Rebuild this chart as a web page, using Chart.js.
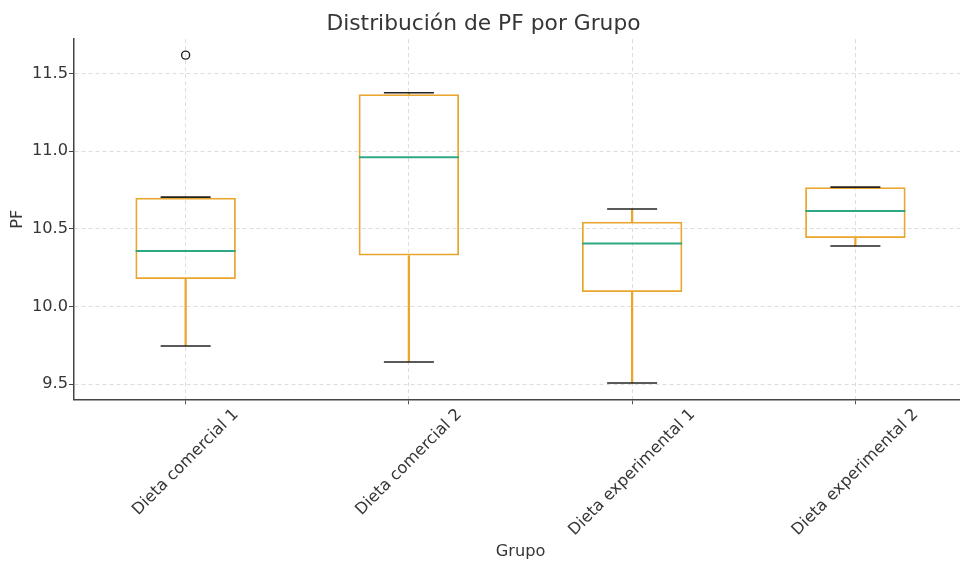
<!DOCTYPE html>
<html lang="es">
<head>
<meta charset="utf-8">
<title>Distribución de PF por Grupo</title>
<script src="https://cdn.jsdelivr.net/npm/chart.js@4/dist/chart.umd.min.js"></script>
<style>
    html, body { margin: 0; padding: 0; background: #fff; overflow: hidden; }
    #wrap { width: 960px; height: 565px; overflow: hidden; }
    canvas { display: block; }
</style>
</head>
<body>
<div id="wrap"><canvas id="chart" width="967" height="565"></canvas></div>
<script>
// datos (PF por grupo)
const groups = ["Dieta comercial 1", "Dieta comercial 2", "Dieta experimental 1", "Dieta experimental 2"];
const whiskerLow = [9.745, 9.642, 9.507, 10.389];
const q1 = [10.176, 10.328, 10.093, 10.440];
const medians = [10.357, 10.961, 10.405, 10.614];
const q3 = [10.700, 11.367, 10.546, 10.768];
const whiskerHigh = [10.704, 11.376, 10.627, 10.768];
const outliers = [11.618, null, null, null];
const yTicks = [9.5, 10.0, 10.5, 11.0, 11.5];

(function () {
    "use strict";

    const FONT = "'DejaVu Sans', 'Liberation Sans', sans-serif";
    const TEXT = "#363636";
    const ORANGE = "#E9A52D";
    const GREEN = "#2FA783";
    const CAP = "#222222";
    const LABEL_SIZE = 16.2;

    // etiquetas del eje x giradas 45°, centradas bajo cada marca (estilo matplotlib)
    const xLabelsPlugin = {
        id: "xLabels",
        afterDraw(chart) {
            const { ctx, chartArea, scales: { x } } = chart;
            const h = LABEL_SIZE * 1.16;
            ctx.save();
            ctx.font = `${LABEL_SIZE}px ${FONT}`;
            ctx.fillStyle = TEXT;
            ctx.textAlign = "center";
            ctx.textBaseline = "middle";
            groups.forEach((label, i) => {
                const w = ctx.measureText(label).width;
                const boxH = (w + h) * Math.SQRT1_2;
                const cx = x.getPixelForValue(i);
                const cy = chartArea.bottom + 6 + boxH / 2;
                ctx.save();
                ctx.translate(cx, cy);
                ctx.rotate(-Math.PI / 4);
                ctx.fillText(label, 0, 0);
                ctx.restore();
            });
            ctx.restore();
        },
    };

    const ctx = document.getElementById("chart").getContext("2d");
    new Chart(ctx, {
        type: "bar",
        data: {
            labels: groups,
            datasets: [
                {
                    label: "caja",
                    data: groups.map((_, i) => [q1[i], q3[i]]),
                    backgroundColor: "rgba(0,0,0,0)",
                    borderColor: ORANGE,
                    borderWidth: 1.8,
                    borderSkipped: false,
                    barPercentage: 0.45,
                    categoryPercentage: 1,
                    grouped: false,
                    order: 5,
                },
                {
                    label: "bigote sup",
                    data: groups.map((_, i) => [q3[i], whiskerHigh[i]]),
                    backgroundColor: ORANGE,
                    borderWidth: 0,
                    barThickness: 1.6,
                    grouped: false,
                    order: 6,
                },
                {
                    label: "bigote inf",
                    data: groups.map((_, i) => [whiskerLow[i], q1[i]]),
                    backgroundColor: ORANGE,
                    borderWidth: 0,
                    barThickness: 1.6,
                    grouped: false,
                    order: 6,
                },
                {
                    type: "line",
                    label: "tope sup",
                    data: whiskerHigh,
                    showLine: false,
                    pointStyle: "line",
                    pointRadius: 25,
                    pointBorderColor: CAP,
                    pointBorderWidth: 1.6,
                    order: 2,
                },
                {
                    type: "line",
                    label: "tope inf",
                    data: whiskerLow,
                    showLine: false,
                    pointStyle: "line",
                    pointRadius: 25,
                    pointBorderColor: CAP,
                    pointBorderWidth: 1.6,
                    order: 2,
                },
                {
                    type: "line",
                    label: "mediana",
                    data: medians,
                    showLine: false,
                    pointStyle: "line",
                    pointRadius: 50,
                    pointBorderColor: GREEN,
                    pointBorderWidth: 2,
                    order: 1,
                },
                {
                    type: "line",
                    label: "atípicos",
                    data: outliers,
                    showLine: false,
                    pointStyle: "circle",
                    pointRadius: 4,
                    pointBackgroundColor: "rgba(0,0,0,0)",
                    pointBorderColor: CAP,
                    pointBorderWidth: 1.4,
                    order: 0,
                },
            ],
        },
        options: {
            responsive: false,
            devicePixelRatio: 1,
            animation: false,
            events: [],
            layout: { padding: 0, autoPadding: false },
            plugins: {
                legend: { display: false },
                tooltip: { enabled: false },
                title: {
                    display: true,
                    text: "Distribución de PF por Grupo",
                    color: TEXT,
                    font: { family: FONT, size: 21.8, weight: "normal" },
                    padding: { top: 11, bottom: 2 },
                },
            },
            scales: {
                x: {
                    type: "category",
                    offset: true,
                    ticks: { display: false },
                    grid: {
                        offset: false,
                        color: "#d4d4d4",
                        lineWidth: 0.8,
                        drawTicks: true,
                        tickLength: 5,
                        tickColor: "#555",
                        tickWidth: 1,
                        tickBorderDash: [],
                    },
                    border: { display: true, color: "#444", width: 1.5, dash: [4, 3] },
                    title: {
                        display: true,
                        text: "Grupo",
                        color: TEXT,
                        font: { family: FONT, size: LABEL_SIZE },
                        padding: { top: 0, bottom: 3 },
                    },
                    afterFit(scale) { scale.height = 165.7; },
                },
                y: {
                    type: "linear",
                    min: 9.402,
                    max: 11.721,
                    afterBuildTicks(scale) { scale.ticks = yTicks.map(v => ({ value: v })); },
                    ticks: {
                        color: TEXT,
                        font: { family: FONT, size: LABEL_SIZE },
                        padding: 1,
                        callback: v => Number(v).toFixed(1),
                    },
                    grid: {
                        color: "#d4d4d4",
                        lineWidth: 0.8,
                        drawTicks: true,
                        tickLength: 5,
                        tickColor: "#444",
                        tickWidth: 1,
                        tickBorderDash: [],
                    },
                    border: { display: true, color: "#444", width: 1.5, dash: [4, 3] },
                    title: {
                        display: true,
                        text: "PF",
                        color: TEXT,
                        font: { family: FONT, size: LABEL_SIZE },
                        padding: { top: 8, bottom: 0 },
                    },
                    afterFit(scale) { scale.width = 74; },
                },
            },
        },
        plugins: [xLabelsPlugin],
    });
})();
</script>
</body>
</html>
